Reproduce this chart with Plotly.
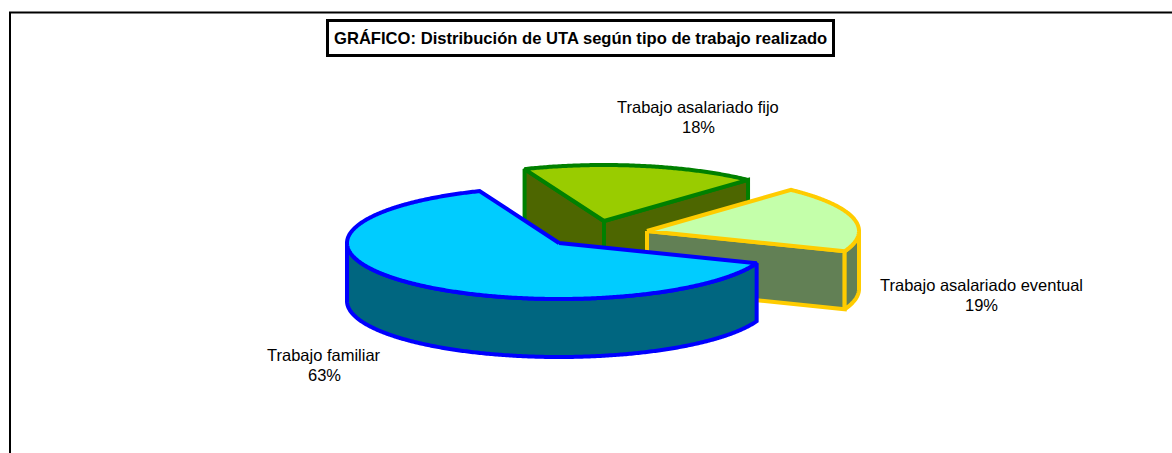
import numpy as np
import plotly.graph_objects as go

title = "GRÁFICO: Distribución de UTA según tipo de trabajo realizado"
categories = ["Trabajo familiar", "Trabajo asalariado eventual", "Trabajo asalariado fijo"]
values = [63, 19, 18]

W, H = 1172, 453
RX, RY, DEPTH = 212, 56, 58
START_DEG = 112.0
FONT = "Liberation Sans, Arial, sans-serif"

# drawing order: back to front
styles = {
    "Trabajo asalariado fijo": dict(center=(604, 221), top="#99CC00", wall="#4D6600", line="#008000",
                                    label=(698, 107)),
    "Trabajo asalariado eventual": dict(center=(647, 231), top="#C4FFAA", wall="#628055", line="#FFCC00",
                                        label=(981, 285)),
    "Trabajo familiar": dict(center=(559, 243), top="#00CCFF", wall="#006680", line="#0000FF",
                             label=(324, 355)),
}

# sweep: slices run counter-clockwise from the start angle, in data order
total = sum(values)
angles = {}
a = START_DEG
for c, v in zip(categories, values):
    angles[c] = (a, a + v / total * 360.0)
    a += v / total * 360.0


def rim(cx, cy, d0, d1, n=None):
    n = n or max(2, int(abs(d1 - d0)) * 2)
    t = np.radians(np.linspace(d0, d1, n))
    return cx + RX * np.cos(t), cy - RY * np.sin(t)


def poly(x, y, fill, line):
    return go.Scatter(x=list(x), y=list(y), mode="lines", fill="toself", fillcolor=fill,
                      line=dict(color=line, width=4, simplify=False), hoverinfo="skip", showlegend=False)


fig = go.Figure()
for cat, st in styles.items():
    cx, cy = st["center"]
    d0, d1 = angles[cat]
    # radial walls, only those that face the viewer
    for d, normal in ((d0, d0 - 90), (d1, d1 + 90)):
        if np.sin(np.radians(normal)) < 0:
            ex, ey = rim(cx, cy, d, d, 2)
            fig.add_trace(poly([cx, ex[0], ex[0], cx, cx], [cy, ey[0], ey[0] + DEPTH, cy + DEPTH, cy],
                               st["wall"], st["line"]))
    # outer wall: only the part of the rim facing the viewer (180..360 degrees)
    for k in (-1, 0, 1):
        lo, hi = max(d0, 180 + 360 * k), min(d1, 360 + 360 * k)
        if hi > lo:
            x, y = rim(cx, cy, lo, hi)
            fig.add_trace(poly(np.r_[x, x[::-1], x[0]], np.r_[y, y[::-1] + DEPTH, y[0]],
                               st["wall"], st["line"]))
    # top face
    x, y = rim(cx, cy, d0, d1)
    fig.add_trace(poly(np.r_[cx, x, cx], np.r_[cy, y, cy], st["top"], st["line"]))

annotations = []
for cat, v in zip(categories, values):
    lx, ly = styles[cat]["label"]
    for text, yy in ((cat, ly), (f"{v}%", ly + 20)):
        annotations.append(dict(x=lx, y=yy, text=text, showarrow=False, xanchor="center", yanchor="middle",
                                font=dict(family=FONT, size=16.5, color="#000000")))
annotations.append(dict(x=580.5, y=38, text=f"<b>{title}</b>", showarrow=False, xanchor="center",
                        yanchor="middle", font=dict(family=FONT, size=16.6, color="#000000")))

fig.update_layout(
    width=W, height=H, margin=dict(l=0, r=0, t=0, b=0), autosize=False,
    paper_bgcolor="white", plot_bgcolor="white",
    xaxis=dict(range=[0, W], visible=False, fixedrange=True),
    yaxis=dict(range=[H, 0], visible=False, fixedrange=True),
    annotations=annotations,
    shapes=[
        dict(type="line", x0=9, y0=12.5, x1=W, y1=12.5, line=dict(color="black", width=2)),
        dict(type="line", x0=10, y0=12, x1=10, y1=H, line=dict(color="black", width=2)),
        dict(type="rect", x0=327.5, y0=20.5, x1=833.5, y1=55.5, line=dict(color="black", width=3),
             fillcolor="white"),
    ],
)
fig.write_html("out.html", config=dict(displayModeBar=False),
               post_script="document.body.style.margin='0';document.body.style.overflow='hidden';")
